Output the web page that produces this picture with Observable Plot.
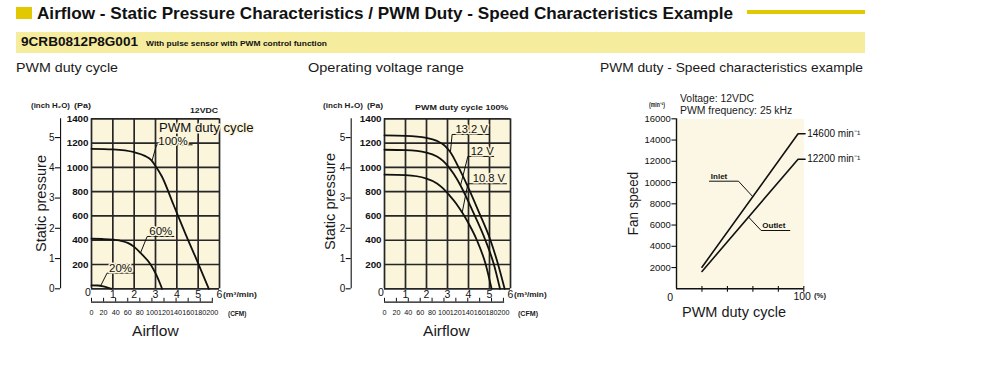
<!DOCTYPE html>
<html><head><meta charset="utf-8">
<script src="https://cdn.jsdelivr.net/npm/d3@7"></script>
<script src="https://cdn.jsdelivr.net/npm/@observablehq/plot@0.6"></script>
<style>
body{margin:0;background:#fff;width:1000px;height:386px;overflow:hidden;position:relative;font-family:"Liberation Sans",Arial,Helvetica,sans-serif;color:#1a1a1a}
.lbl{position:absolute;white-space:nowrap;line-height:1}
.panel{position:absolute;top:80px}
.blk{position:absolute}
</style></head><body>
<script>
// ---------- DATA ----------
const airflowTicks = [0, 1, 2, 3, 4, 5, 6];
const airflowLabels = [1, 2, 3, 4, 5, 6];
const pressureTicks = [0, 200, 400, 600, 800, 1000, 1200, 1400];
const pressureLabels = [200, 400, 600, 800, 1000, 1200, 1400];
const inchTicks = [0, 1, 2, 3, 4, 5];
const cfmTicks = [0, 20, 40, 60, 80, 100, 120, 140, 160, 180, 200];

// Panel 1: PWM duty cycle curves (m3/min, Pa)
const duty100Flow = [0, 1, 2, 2.5, 2.8, 3.0, 3.3, 3.85, 4.4, 5.0, 5.5];
const duty100Pres = [1153, 1148, 1125, 1095, 1060, 1012, 925, 690, 455, 210, 0];
const duty60Flow = [0, 0.5, 1, 1.3, 1.7, 2.0, 2.3, 2.78, 3.05, 3.31];
const duty60Pres = [412, 410, 405, 398, 378, 345, 295, 198, 110, 0];
const duty20Flow = [0, 0.3, 0.55, 0.75, 0.95];
const duty20Pres = [28, 27, 20, 10, 0];

// Panel 2: operating voltage curves (m3/min, Pa)
const v132Flow = [0, 1, 2, 2.5, 2.8, 3.0, 3.14, 3.5, 4.0, 4.5, 5.05, 5.4, 5.72];
const v132Pres = [1263, 1260, 1243, 1218, 1188, 1155, 1125, 1010, 830, 630, 398, 206, 0];
const v12Flow = [0, 1, 2, 2.5, 2.8, 3.0, 3.3, 3.62, 4.2, 4.81, 5.2, 5.5];
const v12Pres = [1145, 1142, 1122, 1090, 1052, 1015, 945, 851, 640, 398, 206, 0];
const v108Flow = [0, 1, 2, 2.5, 2.8, 3.1, 3.4, 3.7, 4.0, 4.4, 4.8, 5.1];
const v108Pres = [940, 936, 908, 868, 825, 768, 705, 628, 540, 400, 212, 0];

// Panel 3: PWM duty - speed (%, min-1)
const speedTicks = [2000, 4000, 6000, 8000, 10000, 12000, 14000, 16000];
const dutyTicks = [20, 40, 60, 80, 100];
const dutyPct = [20, 95.5, 101];
const inletRpm = [2030, 14600, 14600];
const outletRpm = [1630, 12200, 12200];

// Annotation texts
const p1Names = ["100%", "60%", "20%"];
const p2Names = ["13.2 V", "12 V", "10.8 V"];
const p3Names = ["Inlet", "Outlet"];
const p3EndNames = ["14600 min\u207B\u00B9", "12200 min\u207B\u00B9"];

// ---------- HELPERS ----------
const beige = "#faf5db", beige3 = "#fbf7e4", grid = "#262626", ink = "#111";
const font = '"Liberation Sans", Arial, Helvetica, sans-serif';
const PA_PER_INH2O = 249.089;
const CFM_PER_M3MIN = 35.3147;
const pts = (xs, ys, z) => xs.map((x, i) => ({x, y: ys[i], z}));

// condense text glyphs horizontally (svg must be in the document)
function narrow(svg, selector, s) {
  svg.querySelectorAll(selector).forEach(t => {
    const L = t.getComputedTextLength();
    t.setAttribute("textLength", (L * s).toFixed(2));
    t.setAttribute("lengthAdjust", "spacingAndGlyphs");
  });
}

function label(txt, x, y, o = {}) {
  const size = o.size || 12, weight = o.weight || 400, anchor = o.anchor || "start";
  const d = document.createElement("div");
  d.className = "lbl";
  d.textContent = txt;
  d.style.fontSize = size + "px";
  d.style.fontWeight = weight;
  d.style.color = o.color || "#1a1a1a";
  document.body.appendChild(d);
  const w = d.getBoundingClientRect().width;
  const s = o.width ? o.width / w : 1;
  if (o.rotate) {
    d.style.left = (x - w / 2) + "px";
    d.style.top = (y - size / 2) + "px";
    d.style.transformOrigin = "50% 50%";
    d.style.transform = `rotate(-90deg) scaleX(${s})`;
  } else {
    const W = w * s;
    const left = anchor === "middle" ? x - W / 2 : anchor === "end" ? x - W : x;
    d.style.left = left + "px";
    d.style.top = (y - size / 2) + "px";
    d.style.transformOrigin = "0 50%";
    d.style.transform = `scaleX(${s})`;
  }
  return d;
}
function box(x, y, w, h, color) {
  const d = document.createElement("div");
  d.className = "blk";
  Object.assign(d.style, {left: x + "px", top: y + "px", width: w + "px", height: h + "px", background: color});
  document.body.appendChild(d);
}
function panel(left, svg) {
  const d = document.createElement("div");
  d.className = "panel";
  d.style.left = left + "px";
  d.appendChild(svg);
  document.body.appendChild(d);
  return svg;
}

// Shared marks for the two pressure-airflow panels
function pqMarks(inchX, cfmEnd) {
  return [
    Plot.frame({fill: beige, stroke: null}),
    Plot.ruleX(airflowTicks, {stroke: grid, strokeWidth: 1.7}),
    Plot.ruleY(pressureTicks, {stroke: grid, strokeWidth: 1.7}),
    // Pa tick labels
    Plot.text(pressureLabels, {x: -0.14, y: d => d, text: d => String(d), textAnchor: "end", fontSize: 9.8, fontWeight: "bold", fill: ink, ariaLabel: "pa-labels"}),
    // m3/min tick labels
    Plot.text(airflowLabels, {x: d => d, y: -49, text: d => String(d), fontSize: 10.5, fill: ink, ariaLabel: "flow-labels"}),
    Plot.text(["0"], {x: -0.17, y: -33, text: d => d, fontSize: 10.5, fill: ink, ariaLabel: "flow-labels"}),
    // inch H2O axis
    Plot.ruleX([inchX], {y1: 0, y2: 1400, stroke: ink, strokeWidth: 1.1}),
    Plot.ruleY(inchTicks, {y: d => d * PA_PER_INH2O, x1: inchX - 0.24, x2: inchX, stroke: ink, strokeWidth: 1.1}),
    Plot.text(inchTicks, {x: inchX - 0.28, y: d => d * PA_PER_INH2O, text: d => String(d), textAnchor: "end", fontSize: 10, fill: ink, ariaLabel: "inch-labels"}),
    // CFM axis
    Plot.ruleY([-110], {x1: 0, x2: cfmEnd, stroke: ink, strokeWidth: 1.1}),
    Plot.ruleX(cfmTicks, {x: d => d / CFM_PER_M3MIN, y1: -110, y2: -78, stroke: ink, strokeWidth: 1}),
    Plot.text(cfmTicks, {x: d => d / CFM_PER_M3MIN, y: -200, text: d => String(d), fontSize: 7.2, fill: ink, ariaLabel: "cfm-labels"})
  ];
}
const noteText = (data, size) => Plot.text(data, {x: "x", y: "y", text: "t", fontSize: size, fill: ink, stroke: beige, strokeWidth: 3, paintOrder: "stroke"});
const leader = (data) => Plot.line(data, {x: "x", y: "y", z: "z", stroke: ink, strokeWidth: 1});
const fixNarrow = (svg) => {
  narrow(svg, 'g[aria-label="pa-labels"] text', 0.8);
  narrow(svg, 'g[aria-label="flow-labels"] text', 0.9);
  narrow(svg, 'g[aria-label="inch-labels"] text', 0.8);
  narrow(svg, 'g[aria-label="cfm-labels"] text', 0.85);
  return svg;
};

// ---------- PANEL 1 ----------
const p1Curves = [
  ...pts(duty100Flow, duty100Pres, "100"),
  ...pts(duty60Flow, duty60Pres, "60"),
  ...pts(duty20Flow, duty20Pres, "20")
];
const p1Text = [
  {x: 3.82, y: 1215, t: p1Names[0]},
  {x: 3.25, y: 472, t: p1Names[1]},
  {x: 1.36, y: 170, t: p1Names[2]}
];
const p1Leaders = [
  ...pts([2.84, 3.05, 4.72], [1057, 1186, 1186], "a"),
  ...pts([2.30, 2.61, 3.86], [297, 431, 431], "b"),
  ...pts([0.42, 0.73, 1.98], [22, 129, 129], "c")
];
const svg1 = Plot.plot({
  width: 290, height: 260, marginLeft: 91, marginRight: 71, marginTop: 38.3, marginBottom: 51.7,
  x: {domain: [0, 6], axis: null}, y: {domain: [0, 1400], axis: null},
  style: {background: "transparent", fontFamily: font, color: ink, overflow: "visible"},
  marks: [
    ...pqMarks(-1.45, 5.72),
    Plot.line(p1Curves, {x: "x", y: "y", z: "z", curve: "monotone-x", stroke: ink, strokeWidth: 1.8}),
    leader(p1Leaders),
    noteText(p1Text, 11.5),
    noteText([{x: 5.38, y: 1323, t: "PWM duty cycle"}], 13.2)
  ]
});
fixNarrow(panel(0, svg1));

// ---------- PANEL 2 ----------
const p2Curves = [
  ...pts(v132Flow, v132Pres, "13.2"),
  ...pts(v12Flow, v12Pres, "12"),
  ...pts(v108Flow, v108Pres, "10.8")
];
const p2Text = [
  {x: 4.15, y: 1312, t: p2Names[0]},
  {x: 4.65, y: 1133, t: p2Names[1]},
  {x: 4.97, y: 911, t: p2Names[2]}
];
const p2Leaders = [
  ...pts([3.14, 3.22, 4.97], [1125, 1271, 1271], "a"),
  ...pts([3.62, 3.97, 5.2], [851, 1090, 1090], "b"),
  ...pts([3.7, 3.97, 5.81], [628, 865, 865], "c")
];
const svg2 = Plot.plot({
  width: 280, height: 260, marginLeft: 94, marginRight: 60, marginTop: 38.3, marginBottom: 51.7,
  x: {domain: [0, 6], axis: null}, y: {domain: [0, 1400], axis: null},
  style: {background: "transparent", fontFamily: font, color: ink, overflow: "visible"},
  marks: [
    ...pqMarks(-1.586, 5.72),
    Plot.line(p2Curves, {x: "x", y: "y", z: "z", curve: "monotone-x", stroke: ink, strokeWidth: 1.8}),
    leader(p2Leaders),
    noteText(p2Text, 11.2)
  ]
});
fixNarrow(panel(290, svg2));

// ---------- PANEL 3 ----------
const p3Lines = [...pts(dutyPct, inletRpm, "in"), ...pts(dutyPct, outletRpm, "out")];
const p3Leaders = [
  ...pts([60, 48.7, 25.9], [8660, 10127, 10127], "a"),
  ...pts([56.7, 66.5, 89], [6740, 5487, 5487], "b")
];
const svg3 = Plot.plot({
  width: 300, height: 260, marginLeft: 86, marginRight: 86.7, marginTop: 38.3, marginBottom: 51.7,
  x: {domain: [0, 100], axis: null}, y: {domain: [0, 16000], axis: null},
  style: {background: "transparent", fontFamily: font, color: ink, overflow: "visible"},
  marks: [
    Plot.frame({fill: beige3, stroke: null}),
    Plot.ruleX([0], {stroke: ink, strokeWidth: 1.4}),
    Plot.ruleY([0], {stroke: ink, strokeWidth: 1.4}),
    Plot.ruleX(dutyTicks, {y1: -320, y2: 220, stroke: ink, strokeWidth: 1.1}),
    Plot.ruleY(speedTicks, {x1: -3.6, x2: 0, stroke: ink, strokeWidth: 1.1}),
    Plot.text(speedTicks, {x: -4.4, y: d => d, text: d => String(d), textAnchor: "end", fontSize: 9.5, fill: ink, ariaLabel: "speed-labels"}),
    Plot.text(["0"], {x: -5, y: -790, text: d => d, fontSize: 10.5, fill: ink}),
    Plot.text(["100"], {x: 98.7, y: -700, text: d => d, fontSize: 10.5, fill: ink}),
    Plot.line(p3Lines, {x: "x", y: "y", z: "z", stroke: ink, strokeWidth: 1.6}),
    leader(p3Leaders),
    Plot.text([{x: 33.4, y: 10598, t: p3Names[0]}, {x: 76.5, y: 5958, t: p3Names[1]}], {x: "x", y: "y", text: "t", fontSize: 8, fontWeight: "bold", fill: ink}),
    Plot.text([{x: 102.7, y: 14600, t: p3EndNames[0]}, {x: 102.7, y: 12200, t: p3EndNames[1]}], {x: "x", y: "y", text: "t", textAnchor: "start", fontSize: 10, fill: ink, ariaLabel: "end-labels"})
  ]
});
panel(590, svg3);
narrow(svg3, 'g[aria-label="speed-labels"] text', 0.95);
narrow(svg3, 'g[aria-label="end-labels"] text', 0.92);

// ---------- HEADER & LABELS ----------
box(16, 7.3, 16, 12, "#e2c800");
label("Airflow - Static Pressure Characteristics / PWM Duty - Speed Characteristics Example", 37, 13.3, {size: 17, weight: 700, width: 696, color: "#111"});
box(747, 10, 118, 3.5, "#e2c800");
box(16, 32, 849, 20.5, "#f6ec9e");
label("9CRB0812P8G001", 20.7, 42, {size: 13.5, weight: 700, width: 117, color: "#111"});
label("With pulse sensor with PWM control function", 146, 43.2, {size: 7, weight: 700, width: 181, color: "#111"});

label("PWM duty cycle", 16, 67.5, {size: 13, width: 102});
label("Operating voltage range", 308.3, 67.5, {size: 13, width: 155.7});
label("PWM duty - Speed characteristics example", 600, 67.5, {size: 13, width: 263});

// panel 1
label("(inch H\u2082O)", 31, 106, {size: 7.5, weight: 700, width: 39});
label("(Pa)", 74, 106, {size: 7.5, weight: 700, width: 17});
label("12VDC", 218.3, 111, {size: 8, weight: 700, width: 28, anchor: "end"});
label("Static pressure", 40, 203.3, {size: 15, width: 97, rotate: true});
label("Airflow", 155, 330, {size: 15, width: 46.7, anchor: "middle"});
label("(m\u00B3/min)", 222.7, 294.3, {size: 7.5, weight: 700, width: 34});
label("(CFM)", 228.3, 313.3, {size: 7.5, weight: 700, width: 18.4});

// panel 2
label("(inch H\u2082O)", 323.3, 106, {size: 7.5, weight: 700, width: 40});
label("(Pa)", 366.7, 106, {size: 7.5, weight: 700, width: 16});
label("PWM duty cycle 100%", 415, 108.3, {size: 8, weight: 700, width: 93.3});
label("Static pressure", 329.3, 201.7, {size: 15, width: 97, rotate: true});
label("Airflow", 446.7, 330, {size: 15, width: 46.7, anchor: "middle"});
label("(m\u00B3/min)", 514, 294.3, {size: 7.5, weight: 700, width: 32.7});
label("(CFM)", 518.3, 313.3, {size: 7.5, weight: 700, width: 20});

// panel 3
label("Voltage: 12VDC", 680, 99, {size: 10, width: 74});
label("PWM frequency: 25 kHz", 680, 111, {size: 10, width: 112.3});
label("(min\u207B\u00B9)", 649.3, 105.7, {size: 6.5, weight: 700, width: 16});
label("Fan speed", 632.3, 203.3, {size: 15, width: 63.3, rotate: true});
label("PWM duty cycle", 734, 311, {size: 15, width: 104, anchor: "middle"});
label("(%)", 814, 296.7, {size: 6.5, weight: 700, width: 12});
</script>
</body></html>
